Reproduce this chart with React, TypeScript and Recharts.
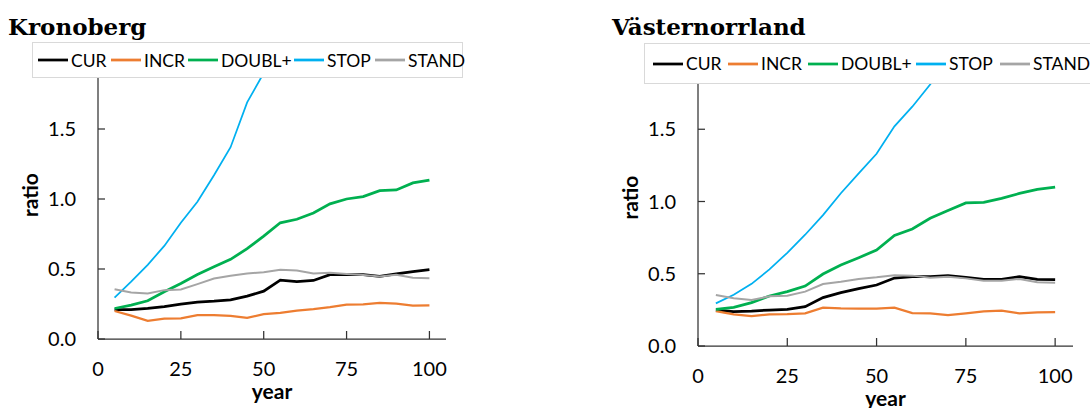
import { Label, Line, LineChart, XAxis, YAxis } from "recharts";

const years = [5, 10, 15, 20, 25, 30, 35, 40, 45, 50, 55, 60, 65, 70, 75, 80, 85, 90, 95, 100];
const yTicks = [0, 0.5, 1, 1.5];
const xTicks = [0, 25, 50, 75, 100];

// Kronoberg
const kroCur = [0.21, 0.21, 0.218, 0.232, 0.249, 0.263, 0.27, 0.28, 0.306, 0.342, 0.42, 0.41, 0.418, 0.46, 0.46, 0.46, 0.448, 0.465, 0.482, 0.496];
const kroIncr = [0.2, 0.167, 0.129, 0.146, 0.148, 0.17, 0.17, 0.165, 0.151, 0.177, 0.187, 0.203, 0.213, 0.227, 0.246, 0.248, 0.258, 0.253, 0.239, 0.241];
const kroDoubl = [0.218, 0.242, 0.273, 0.337, 0.397, 0.461, 0.516, 0.569, 0.645, 0.735, 0.83, 0.855, 0.9, 0.965, 1.0, 1.017, 1.06, 1.065, 1.115, 1.135];
const kroStop = [0.296, 0.41, 0.53, 0.665, 0.83, 0.98, 1.17, 1.37, 1.69, 1.9, 2.15, null, null, null, null, null, null, null, null, null];
const kroStand = [0.356, 0.332, 0.325, 0.349, 0.354, 0.392, 0.432, 0.451, 0.468, 0.477, 0.494, 0.49, 0.468, 0.473, 0.465, 0.458, 0.446, 0.458, 0.437, 0.434];

// Västernorrland
const vnCur = [0.249, 0.238, 0.242, 0.249, 0.254, 0.272, 0.335, 0.369, 0.397, 0.422, 0.47, 0.48, 0.48, 0.487, 0.475, 0.461, 0.461, 0.48, 0.461, 0.459];
const vnIncr = [0.242, 0.219, 0.207, 0.219, 0.221, 0.226, 0.265, 0.26, 0.258, 0.258, 0.265, 0.228, 0.226, 0.214, 0.226, 0.24, 0.245, 0.226, 0.233, 0.235];
const vnDoubl = [0.254, 0.268, 0.3, 0.346, 0.376, 0.415, 0.498, 0.56, 0.611, 0.664, 0.765, 0.81, 0.884, 0.937, 0.99, 0.994, 1.022, 1.056, 1.084, 1.1];
const vnStop = [0.295, 0.355, 0.43, 0.53, 0.645, 0.77, 0.906, 1.057, 1.195, 1.33, 1.52, 1.656, 1.81, 1.97, 2.1, null, null, null, null, null];
const vnStand = [0.353, 0.33, 0.318, 0.344, 0.348, 0.376, 0.429, 0.445, 0.464, 0.475, 0.489, 0.487, 0.473, 0.48, 0.468, 0.452, 0.452, 0.464, 0.441, 0.438];

const series = [
  { key: "CUR", color: "#000000", width: 2.75 },
  { key: "INCR", color: "#ED7D31", width: 2.25 },
  { key: "DOUBL+", color: "#00B050", width: 2.75 },
  { key: "STOP", color: "#00B0F0", width: 1.75 },
  { key: "STAND", color: "#A5A5A5", width: 2 },
];

type Num = number | null;

function buildRows(cur: Num[], incr: Num[], doubl: Num[], stop: Num[], stand: Num[]) {
  return years.map((year, i) => ({
    year,
    CUR: cur[i],
    INCR: incr[i],
    "DOUBL+": doubl[i],
    STOP: stop[i],
    STAND: stand[i],
  }));
}

const kroRows = buildRows(kroCur, kroIncr, kroDoubl, kroStop, kroStand);
const vnRows = buildRows(vnCur, vnIncr, vnDoubl, vnStop, vnStand);

const FONT = "Lato, 'Open Sans', sans-serif";
const AXIS = "#333333";
const Y_AXIS_W = 60;
const X_AXIS_H = 62;

function YTitle({ viewBox }: any) {
  const cx = viewBox.x + viewBox.width - 69;
  const cy = viewBox.y + viewBox.height / 2 - 4;
  return (
    <text x={cx} y={cy} transform={`rotate(-90 ${cx} ${cy})`} textAnchor="middle" dominantBaseline="central"
      fontFamily={FONT} fontWeight={700} fontSize={21} fill="#000">
      ratio
    </text>
  );
}

function XTitle({ viewBox }: any) {
  return (
    <text x={viewBox.x + viewBox.width / 2} y={viewBox.y + 60} textAnchor="middle"
      fontFamily={FONT} fontWeight={700} fontSize={21} fill="#000">
      year
    </text>
  );
}

interface PanelProps {
  title: string;
  rows: ReturnType<typeof buildRows>;
  left: number;
  width: number;
  plotLeft: number;
  plotRight: number;
  plotTop: number;
  plotBottom: number;
  legend: { left: number; top: number; width: number; height: number; slots: number[] };
}

function LegendBox({ left, top, width, height, slots }: PanelProps["legend"]) {
  return (
    <div
      style={{
        position: "absolute", left, top, width, height, boxSizing: "border-box",
        border: "1px solid #D9D9D9", background: "#fff", fontFamily: FONT, fontSize: 17.5, color: "#000",
      }}
    >
      {series.map((s, i) => (
        <div key={s.key} style={{ position: "absolute", left: slots[i], top: 0, height: height - 2, display: "flex", alignItems: "center", whiteSpace: "nowrap" }}>
          <svg width={30} height={6}>
            <line x1={0} x2={30} y1={3} y2={3} stroke={s.color} strokeWidth={2.75} />
          </svg>
          <span style={{ marginLeft: 3 }}>{s.key}</span>
        </div>
      ))}
    </div>
  );
}

function Panel({ title, rows, left, width, plotLeft, plotRight, plotTop, plotBottom, legend }: PanelProps) {
  const H = 408;
  return (
    <div style={{ position: "absolute", left, top: 0, width, height: H }}>
      <LineChart
        width={width}
        height={H}
        data={rows}
        margin={{ top: plotTop, bottom: H - plotBottom - X_AXIS_H, left: plotLeft - Y_AXIS_W, right: width - plotRight }}
      >
        <XAxis
          dataKey="year"
          type="number"
          domain={[0, 105]}
          ticks={xTicks}
          interval={0}
          height={X_AXIS_H}
          tickSize={-8}
          tickMargin={31}
          axisLine={{ stroke: AXIS, strokeWidth: 1.25 }}
          tickLine={{ stroke: AXIS, strokeWidth: 1.25 }}
          tick={{ fill: "#000", fontSize: 20, fontFamily: FONT }}
        >
          <Label content={<XTitle />} />
        </XAxis>
        <YAxis
          type="number"
          domain={[0, 2]}
          ticks={yTicks}
          interval={0}
          allowDataOverflow
          width={Y_AXIS_W}
          tickSize={-7}
          tickMargin={29}
          tickFormatter={(v: number) => v.toFixed(1)}
          axisLine={{ stroke: AXIS, strokeWidth: 1.25 }}
          tickLine={{ stroke: AXIS, strokeWidth: 1.25 }}
          tick={{ fill: "#000", fontSize: 20, fontFamily: FONT }}
        >
          <Label content={<YTitle />} />
        </YAxis>
        {series.map((s) => (
          <Line
            key={s.key}
            dataKey={s.key}
            type="linear"
            stroke={s.color}
            strokeWidth={s.width}
            dot={false}
            activeDot={false}
            isAnimationActive={false}
          />
        ))}
      </LineChart>
      <LegendBox {...legend} />
      <div
        style={{
          position: "absolute", left: 8, top: 15, fontFamily: "'DejaVu Serif', serif", fontWeight: 700,
          fontSize: 23, lineHeight: "23px", color: "#000", whiteSpace: "nowrap",
        }}
      >
        {title}
      </div>
    </div>
  );
}

export default function App() {
  return (
    <div style={{ position: "absolute", left: 0, top: 0, width: 1090, height: 408, overflow: "hidden", background: "#fff" }}>
      <Panel
        title="Kronoberg"
        rows={kroRows}
        left={0}
        width={480}
        plotLeft={98}
        plotRight={446}
        plotTop={59}
        plotBottom={339}
        legend={{ left: 32, top: 42, width: 431, height: 36, slots: [5, 78, 155, 261, 342] }}
      />
      <Panel
        title="Västernorrland"
        rows={vnRows}
        left={604}
        width={486}
        plotLeft={94}
        plotRight={469}
        plotTop={57}
        plotBottom={346}
        legend={{ left: 40, top: 43, width: 460, height: 41, slots: [8, 83, 163, 271, 355] }}
      />
    </div>
  );
}
